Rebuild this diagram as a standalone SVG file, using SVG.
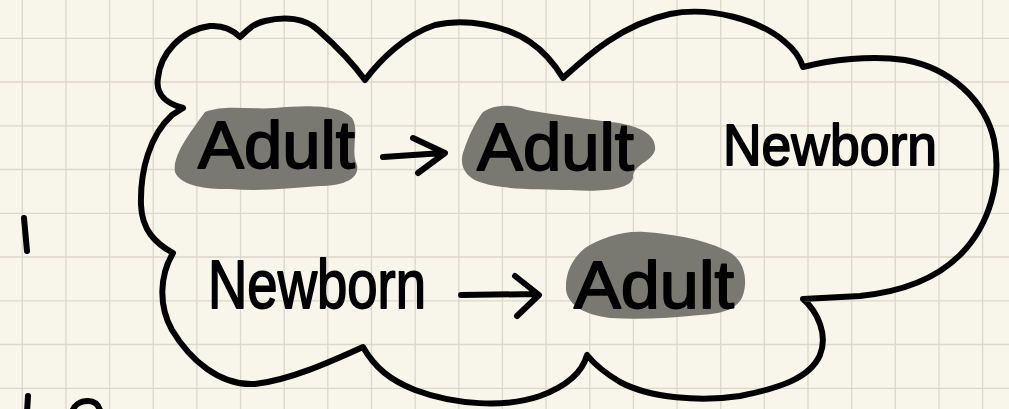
<svg xmlns="http://www.w3.org/2000/svg" width="1009" height="409" viewBox="0 0 1009 409">
<style>
.grid{stroke:#DAD8CA;stroke-width:1.3;fill:none}
.ink{stroke:#000;stroke-width:6;fill:none;stroke-linecap:round;stroke-linejoin:round}
.hl{fill:#7A7971}
.txt{font-family:"Liberation Sans",Arial,sans-serif;fill:#000;stroke:#000;stroke-width:1.8;stroke-linejoin:round}
</style>
<rect width="1009" height="409" fill="#F8F6EA"/>
<path class="grid" d="M22.3,0V409M65.95,0V409M109.6,0V409M153.25,0V409M196.9,0V409M240.55,0V409M284.2,0V409M327.85,0V409M371.5,0V409M415.15,0V409M458.8,0V409M502.45,0V409M546.1,0V409M589.75,0V409M633.4,0V409M677.05,0V409M720.7,0V409M764.35,0V409M808,0V409M851.65,0V409M895.3,0V409M938.95,0V409M982.6,0V409M0,38.3H1009M0,82H1009M0,125.8H1009M0,169.5H1009M0,213.3H1009M0,257H1009M0,300.8H1009M0,344.5H1009M0,388.3H1009"/>
<g id="cloud">
<path class="ink" d="M183,108 C168,104 155,95 158,78 C160,55 180,30 210,26 C225,25 235,32 240,37 C248,30 252,24 265,21 C285,16 305,18 318,30 C335,45 352,62 365,80 C380,60 405,35 435,25 C465,18 505,25 530,42 C545,52 555,65 563,78 C585,58 620,25 670,14 C710,6 760,20 785,42 C795,50 800,58 803,67 C830,60 870,55 905,60 C950,68 985,100 994,140 C1002,180 990,225 960,255 C935,280 900,292 860,296 C840,297 820,298 803,299 C818,312 828,335 820,355 C810,378 780,388 740,396 C700,402 650,398 620,382 C605,373 595,365 587,355 C583,370 570,385 540,396 C505,408 455,405 415,390 C390,380 375,368 363,347 C330,362 290,380 255,384 C220,386 190,360 172,330 C158,305 160,275 173,253 C155,243 142,230 141,205 C140,170 150,135 172,115 L183,108"/>
</g>
<g id="marks">
<path class="ink" d="M24,218 L27,251"/>
<path class="ink" d="M28,396 L27,412"/>
<path class="ink" d="M72,412 C74,405 80,401 88,401 C94,401 98,404 100,410"/>
</g>
<g id="node-adult-1">
<path class="hl" d="M205,112 C225,104 250,110 275,108 C305,105 340,104 352,118 C360,130 350,150 357,165 C360,180 340,186 320,186 C290,188 260,192 230,189 C205,190 180,185 175,172 C172,155 192,130 205,112 Z"/>
<text class="txt" x="198" y="168" font-size="67" textLength="157" lengthAdjust="spacingAndGlyphs">Adult</text>
</g>
<g id="node-adult-2">
<path class="hl" d="M483,112 C495,104 510,104 527,110 C550,114 580,118 610,122 C640,125 657,135 655,150 C652,162 632,165 633,178 C630,190 600,192 570,190 C540,189 505,190 483,183 C465,178 458,165 464,150 C468,138 475,122 483,112 Z"/>
<text class="txt" x="477" y="170" font-size="67" textLength="157" lengthAdjust="spacingAndGlyphs">Adult</text>
</g>
<g id="node-newborn-1">
<text class="txt" x="723" y="165" font-size="58" textLength="214" lengthAdjust="spacingAndGlyphs">Newborn</text>
</g>
<g id="node-newborn-2">
<text class="txt" x="208" y="308" font-size="68" textLength="218" lengthAdjust="spacingAndGlyphs">Newborn</text>
</g>
<g id="node-adult-3">
<path class="hl" d="M585,248 C600,238 625,230 645,232 C670,234 700,238 725,250 C745,258 748,280 743,295 C738,310 720,314 700,315 C670,318 640,320 610,318 C585,315 568,305 566,290 C565,272 573,258 585,248 Z"/>
<text class="txt" x="574" y="308" font-size="67" textLength="160" lengthAdjust="spacingAndGlyphs">Adult</text>
</g>
<g id="connectors">
<path class="ink" d="M383,157 L443,153 M413,138 L445,153 L418,173"/>
<path class="ink" d="M461,295 L537,294 M515,276 L539,295 L517,316"/>
</g>
</svg>
